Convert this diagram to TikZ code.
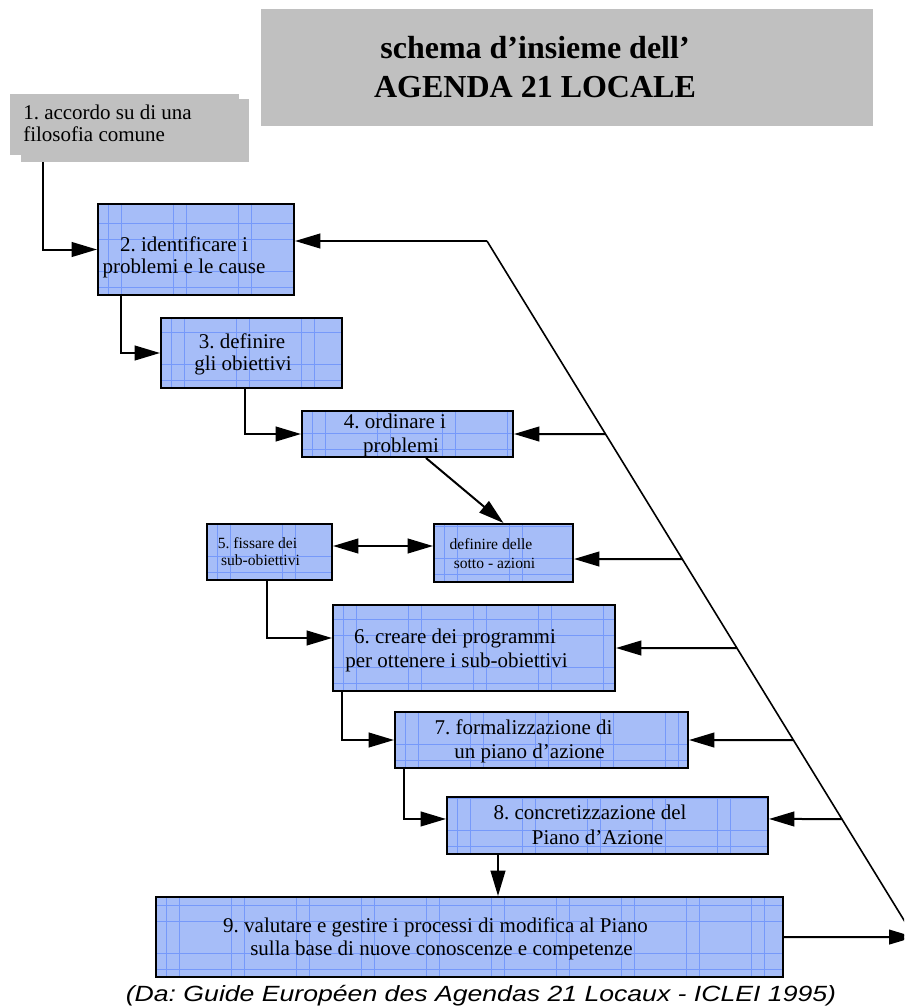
\documentclass[tikz,border=0pt]{standalone}
\usepackage{fontspec}
\usepackage{graphicx}
\setmainfont{Liberation Serif}
\newfontfamily\footfont{Liberation Sans}
\usetikzlibrary{arrows.meta,fit}
\definecolor{boxblue}{RGB}{166,189,248}
\definecolor{gridblue}{RGB}{118,153,250}
\definecolor{panelgray}{RGB}{192,192,192}
\frenchspacing
\tikzset{
  gridfill/.style={path picture={
    \foreach \i in {0,...,18}{
      \draw[gridblue, line width=0.5pt] ([xshift=\i*48.75pt+8pt]path picture bounding box.south west) -- ++(0,-200);
      \draw[gridblue, line width=0.5pt] ([xshift=\i*48.75pt+17.75pt]path picture bounding box.south west) -- ++(0,-200);
    }
    \foreach \j in {0,...,4}{
      \draw[gridblue, line width=0.5pt] ([yshift=\j*36pt+6pt]path picture bounding box.south west) -- ++(900,0);
      \draw[gridblue, line width=0.5pt] ([yshift=\j*36pt+18pt]path picture bounding box.south west) -- ++(900,0);
    }
  }},
  bluebox/.style={draw=black, line width=1.5pt, fill=boxblue, inner sep=0pt, gridfill},
  graybox/.style={fill=panelgray, draw=none, inner sep=0pt},
  txt/.style={inner sep=0pt, anchor=base, font=\fontsize{15.75}{18}\selectfont},
  txtl/.style={txt, anchor=base west},
  small/.style={inner sep=0pt, anchor=base, font=\fontsize{11.7}{14}\selectfont},
  ttl/.style={inner sep=0pt, anchor=base, font=\fontsize{24}{28}\selectfont\bfseries},
  conn/.style={line width=1.5pt, -{Triangle[length=19pt,width=11pt]}},
  dconn/.style={line width=1.5pt, {Triangle[length=19pt,width=11pt]}-{Triangle[length=19pt,width=11pt]}},
  diag/.style={line width=1.2pt}
}
\begin{document}
\begin{tikzpicture}[x=0.75pt,y=-0.75pt]
\useasboundingbox (0,0) rectangle (904,1007);
\clip (0,0) rectangle (904,1007);
\fill[white] (0,0) rectangle (904,1007);

% title
\node[graybox, fit={(261,9)(873,126)}] (title) {};
\node[ttl] (ttl1) at (535,58) {schema d'insieme dell'};
\node[ttl] (ttl2) at (535,97) {AGENDA 21 LOCALE};

% box 1
\node[graybox, fit={(10,94)(239,155)}] (b1s) {};
\node[graybox, fit={(21,99)(249,162)}] (b1) {};
\node[txtl] (t1a) at (23,119) {1. accordo su di una};
\node[txtl] (t1b) at (23,141) {filosofia comune};

% blue boxes
\node[bluebox, fit={(98,204)(294,295)}] (b2) {};
\node[bluebox, fit={(161,318)(342,388)}] (b3) {};
\node[bluebox, fit={(302,411)(513,457)}] (b4) {};
\node[bluebox, fit={(434,524)(573,582)}] (bd) {};
\node[bluebox, fit={(207,524)(332,580)}] (b5) {};
\node[bluebox, fit={(333,605)(615,691)}] (b6) {};
\node[bluebox, fit={(395,712)(688,768)}] (b7) {};
\node[bluebox, fit={(447,797)(768,854)}] (b8) {};
\node[bluebox, fit={(156,897)(783,977)}] (b9) {};

% texts
\node[txt] (t2a) at (184,251) {2. identificare i};
\node[txt] (t2b) at (184,273) {problemi e le cause};
\node[txt] (t3a) at (242,348) {3. definire};
\node[txt] (t3b) at (243,370) {gli obiettivi};
\node[txt] (t4a) at (395,428) {4. ordinare i};
\node[txt] (t4b) at (401,452) {problemi};
\node[small] (tda) at (491,549) {definire delle};
\node[small] (tdb) at (494.5,568) {sotto - azioni};
\node[small] (t5a) at (257.5,548) {5. fissare dei};
\node[small] (t5b) at (260.5,565) {sub-obiettivi};
\node[txt] (t6a) at (455,643) {6. creare dei programmi};
\node[txt] (t6b) at (456.5,667) {per ottenere i sub-obiettivi};
\node[txt] (t7a) at (523.5,734) {7. formalizzazione di};
\node[txt] (t7b) at (529.5,758) {un piano d'azione};
\node[txt] (t8a) at (590,819) {8. concretizzazione del};
\node[txt] (t8b) at (597.5,844) {Piano d'Azione};
\node[txt] (t9a) at (435.5,932) {9. valutare e gestire i processi di modifica al Piano};
\node[txt] (t9b) at (441.5,955) {sulla base di nuove conoscenze e competenze};

% footer
\node[inner sep=0pt, anchor=base] (foot) at (481,1001)
  {\scalebox{1.21}[1]{\footfont\itshape\fontsize{16.5}{19}\selectfont (Da: Guide Européen des Agendas 21 Locaux - ICLEI 1995)}};

% left-side chain connectors
\draw[conn] ([xshift=16.5pt]b1.south west) |- (b2.west);
\draw[conn] ([xshift=18pt]b2.south west) |- (b3.west);
\draw[conn] ([xshift=63.75pt]b3.south west) |- (b4.west);
\draw[conn] ([xshift=93.75pt]b4.south west) -- (bd.north);
\draw[dconn] ([yshift=4.5pt]b5.east) -- ([yshift=4.5pt]b5.east -| bd.west);
\draw[conn] ([xshift=45.75pt]b5.south west) |- ([yshift=7.5pt]b6.west);
\draw[conn] ([xshift=7.5pt]b6.south west) |- (b7.west);
\draw[conn] ([xshift=7.5pt]b7.south west) |- ([yshift=4.9pt]b8.west);
\coordinate (k8) at ([xshift=39pt]b8.south west);
\draw[conn] (k8) -- (k8 |- b9.north);

% feedback diagonal
\coordinate (dtop) at (487,241);
\coordinate (dbot) at (953,1000);
\draw[diag] (dtop) -- (dbot);
\draw[conn] (dtop) -- (dtop -| b2.east);
\draw[conn] (intersection of dtop--dbot and b4.west--b4.east) -- (b4.east);
\coordinate (bdE) at ([yshift=-4.5pt]bd.east);
\coordinate (bdW) at ([yshift=-4.5pt]bd.west);
\draw[conn] (intersection of dtop--dbot and bdW--bdE) -- (bdE);
\draw[conn] (intersection of dtop--dbot and b6.west--b6.east) -- (b6.east);
\draw[conn] (intersection of dtop--dbot and b7.west--b7.east) -- (b7.east);
\coordinate (b8E) at ([yshift=4.9pt]b8.east);
\coordinate (b8W) at ([yshift=4.9pt]b8.west);
\draw[conn] (intersection of dtop--dbot and b8W--b8E) -- (b8E);
\draw[conn] (b9.east) -- (intersection of dtop--dbot and b9.west--b9.east);
\end{tikzpicture}
\end{document}
